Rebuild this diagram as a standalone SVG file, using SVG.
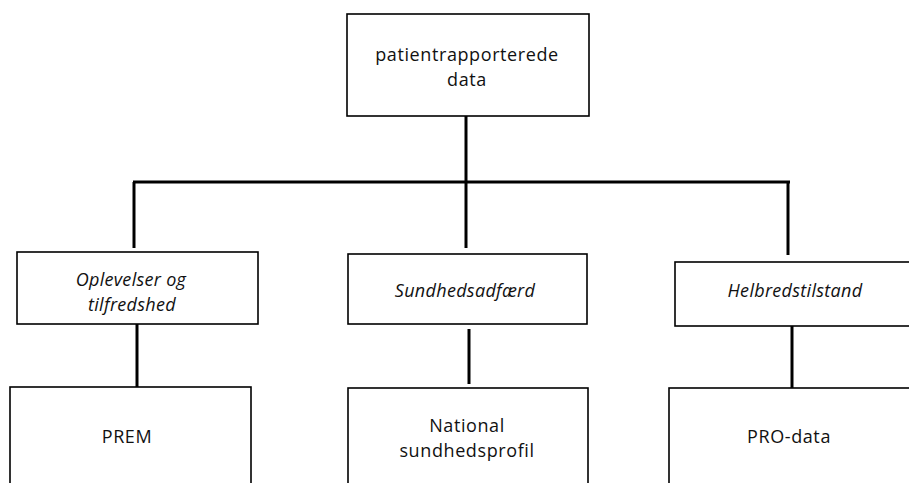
<svg xmlns="http://www.w3.org/2000/svg" width="909" height="483" viewBox="0 0 909 483">
<style>
.box{fill:#fff;stroke:#000;stroke-width:1.6}
.con{stroke:#000;stroke-width:3;fill:none;stroke-linecap:butt}
text{font-family:"Open Sans","Noto Sans",sans-serif;font-size:18px;fill:#111;text-anchor:middle;letter-spacing:0.6px}
.it{font-style:italic;letter-spacing:0.3px}
</style>
<rect width="909" height="483" fill="#fff"/>
<g id="connectors">
<line class="con" x1="466" y1="116" x2="466" y2="183"/>
<line class="con" x1="133" y1="182" x2="790" y2="182"/>
<line class="con" x1="134" y1="182" x2="134" y2="248"/>
<line class="con" x1="466" y1="182" x2="466" y2="248"/>
<line class="con" x1="788" y1="182" x2="788" y2="255"/>
<line class="con" x1="137" y1="324" x2="137" y2="388"/>
<line class="con" x1="469" y1="329" x2="469" y2="384"/>
<line class="con" x1="792" y1="326" x2="792" y2="388"/>
</g>
<g id="node-root">
<rect class="box" x="347" y="14" width="242" height="102" stroke-width="2"/>
<text x="467" y="61">patientrapporterede</text>
<text x="467" y="86">data</text>
</g>
<g id="node-oplevelser">
<rect class="box" x="17" y="252" width="241" height="72"/>
<text class="it" x="131" y="286">Oplevelser og</text>
<text class="it" x="132" y="311">tilfredshed</text>
</g>
<g id="node-sundhedsadfaerd">
<rect class="box" x="348" y="254" width="239" height="70"/>
<text class="it" x="465" y="297">Sundhedsadfærd</text>
</g>
<g id="node-helbredstilstand">
<rect class="box" x="675" y="262" width="240" height="64"/>
<text class="it" x="795" y="297">Helbredstilstand</text>
</g>
<g id="node-prem">
<rect class="box" x="10" y="387" width="241" height="110"/>
<text x="127" y="443">PREM</text>
</g>
<g id="node-national">
<rect class="box" x="348" y="388" width="240" height="110"/>
<text x="467" y="432">National</text>
<text x="467" y="457">sundhedsprofil</text>
</g>
<g id="node-pro">
<rect class="box" x="669" y="388" width="246" height="110"/>
<text x="789" y="443">PRO-data</text>
</g>
</svg>
